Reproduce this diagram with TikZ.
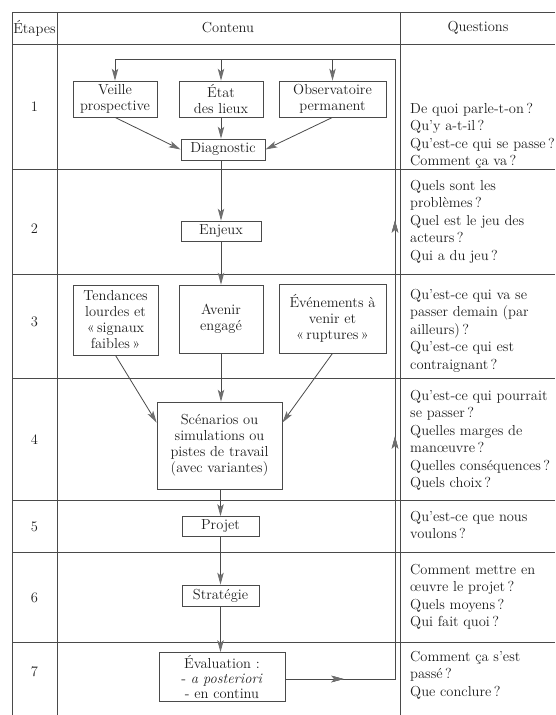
\documentclass[tikz,border=0pt]{standalone}
\usepackage{fontspec}
\usetikzlibrary{arrows.meta,decorations.markings}

\definecolor{trait}{HTML}{4A4A4A}
\definecolor{pointe}{HTML}{6E6E6E}
\definecolor{texte}{HTML}{1E1E1E}

\tikzset{
  boite/.style={draw=trait, line width=0.8pt, align=center, inner sep=1pt,
    text=texte, font=\fontsize{14.5}{16}\selectfont},
  fleche/.style={draw=trait, line width=0.8pt,
    -{Stealth[length=12pt,width=6.5pt,inset=3pt,fill=pointe,color=pointe]}},
  grille/.style={draw=trait, line width=0.7pt},
  question/.style={anchor=base west, align=left, inner sep=0pt, text=texte,
    font=\fontsize{14.5}{17.5}\selectfont},
  etape/.style={text=texte, font=\fontsize{14.5}{16}\selectfont},
  titre/.style={text=texte, font=\fontsize{14.5}{16}\selectfont},
  pointemilieu/.style={postaction=decorate, decoration={markings,
    mark=at position #1 with {\arrow{Stealth[length=12pt,width=6.5pt,inset=3pt,fill=pointe,color=pointe]}}}}
}

\begin{document}
\begin{tikzpicture}[x=1pt,y=-1pt]
    \useasboundingbox (0,0) rectangle (555,715);

    % tableau
    \draw[grille] (555,12) -- (12,12) -- (12,715);
    \draw[grille] (57,12) -- (57,715);
    \draw[grille] (400,12) -- (400,715);
    \foreach \y in {44,169,274,378,500,552,642}
        \draw[grille] (12,\y) -- (555,\y);

    \node[titre] (tEtapes) at (34.5,28) {Étapes};
    \node[titre] (tContenu) at (228,28) {Contenu};
    \node[titre] (tQuestions) at (478,28) {Questions};

    \node[etape] (e1) at (34.5,107) {1};
    \node[etape] (e2) at (34.5,229) {2};
    \node[etape] (e3) at (34.5,322) {3};
    \node[etape] (e4) at (34.5,440) {4};
    \node[etape] (e5) at (34.5,527) {5};
    \node[etape] (e6) at (34.5,598) {6};
    \node[etape] (e7) at (34.5,672) {7};

    % boites du contenu
    \node[boite, minimum width=84pt, minimum height=36pt] (veille) at (115,99) {Veille\\prospective};
    \node[boite, minimum width=84pt, minimum height=36pt] (etat) at (221,99) {État\\des lieux};
    \node[boite, minimum width=107pt, minimum height=36pt] (observ) at (332.5,99) {Observatoire\\permanent};
    \node[boite, minimum width=84pt, minimum height=21pt] (diag) at (223,149.5) {Diagnostic};
    \node[boite, minimum width=80pt, minimum height=20pt] (enjeux) at (221,231) {Enjeux};
    \node[boite, minimum width=85pt, minimum height=70pt] (tend) at (115.5,320) {Tendances\\lourdes et\\«\,signaux\\faibles\,»};
    \node[boite, minimum width=84pt, minimum height=68pt] (avenir) at (221,319) {Avenir\\engagé};
    \node[boite, minimum width=107pt, minimum height=69pt] (event) at (332.5,318.5) {Événements à\\venir et\\«\,ruptures\,»};
    \node[boite, minimum width=125pt, minimum height=87pt] (scen) at (219.5,445.5) {Scénarios ou\\simulations ou\\pistes de travail\\(avec variantes)};
    \node[boite, minimum width=77pt, minimum height=20pt] (projet) at (220.5,526.5) {Projet};
    \node[boite, minimum width=77pt, minimum height=21pt] (strat) at (220.5,595.5) {Stratégie};
    \node[boite, minimum width=126pt, minimum height=49pt,
          font=\fontsize{14.5}{15}\selectfont] (eval) at (222,677) {Évaluation :\\- \textit{a posteriori}\\- en continu};

    % fleches
    \draw[fleche] (veille.south) -- (diag.west);
    \draw[fleche] (etat.south) -- (etat.south |- diag.north);
    \draw[fleche] (observ.south) -- (diag.east);
    \draw[fleche] (diag.south -| enjeux.north) -- (enjeux.north);
    \draw[fleche] (enjeux.south) -- (avenir.north);
    \draw[fleche] (tend.south) -- (scen.160);
    \draw[fleche] (avenir.south) -- (avenir.south |- scen.north);
    \draw[fleche] (event.south) -- (scen.20);
    \draw[fleche] (scen.south -| projet.north) -- (projet.north);
    \draw[fleche] (projet.south) -- (strat.north);
    \draw[fleche] (strat.south) -- (strat.south |- eval.north);

    % boucle de retour
    \coordinate (retourbas) at (395,679);
    \coordinate (retourhaut) at (395,59);
    \draw[draw=trait, line width=0.8pt, pointemilieu=58pt, pointemilieu=352pt, pointemilieu=568pt]
        (eval.east |- retourbas) -- (retourbas) -- (retourhaut) -- (veille.north |- retourhaut);
    \draw[fleche] (veille.north |- retourhaut) -- (veille.north);
    \draw[fleche] (etat.north |- retourhaut) -- (etat.north);
    \draw[fleche] (observ.north |- retourhaut) -- (observ.north);

    % questions (base = ligne du bas)
    \node[question] (q1) at (410,165.5) {De quoi parle-t-on\,?\\Qu’y a-t-il\,?\\Qu’est-ce qui se passe\,?\\Comment ça va\,?};
    \node[question] (q2) at (410,260) {Quels sont les\\problèmes\,?\\Quel est le jeu des\\acteurs\,?\\Qui a du jeu\,?};
    \node[question] (q3) at (410,369) {Qu’est-ce qui va se\\passer demain (par\\ailleurs)\,?\\Qu’est-ce qui est\\contraignant\,?};
    \node[question] (q4) at (410,487.5) {Qu’est-ce qui pourrait\\se passer\,?\\Quelles marges de\\manœuvre\,?\\Quelles conséquences\,?\\Quels choix\,?};
    \node[question] (q5) at (410,538.5) {Qu’est-ce que nous\\voulons\,?};
    \node[question] (q6) at (410,626.5) {Comment mettre en\\œuvre le projet\,?\\Quels moyens\,?\\Qui fait quoi\,?};
    \node[question] (q7) at (410,696) {Comment ça s’est\\passé\,?\\Que conclure\,?};
\end{tikzpicture}
\end{document}
